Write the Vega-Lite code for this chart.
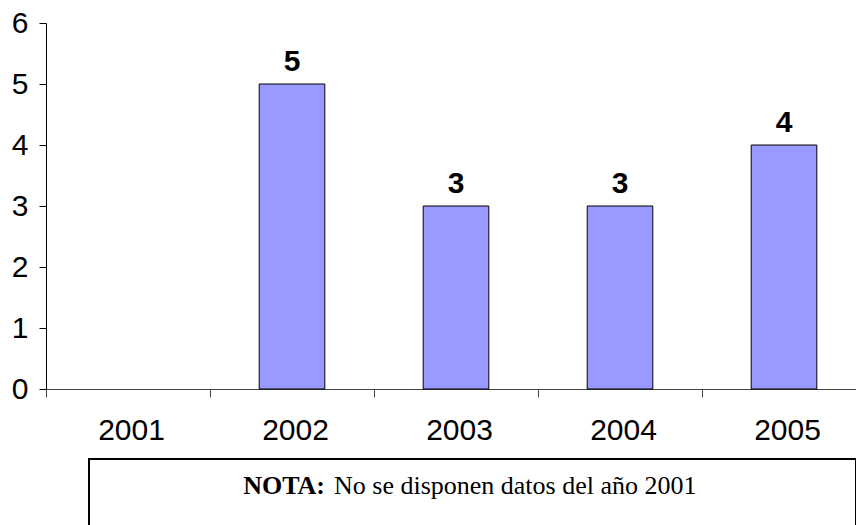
{
  "$schema": "https://vega.github.io/schema/vega-lite/v6.json",
  "padding": {"left": 11, "top": 8, "right": 0, "bottom": 0},
  "background": "white",
  "spacing": 13,
  "config": {"font": "Liberation Sans"},
  "vconcat": [
    {
      "width": 820,
      "height": 366,
      "view": {"stroke": null},
      "data": {"values": [
        {"year": "2001", "n": null},
        {"year": "2002", "n": 5},
        {"year": "2003", "n": 3},
        {"year": "2004", "n": 3},
        {"year": "2005", "n": 4}
      ]},
      "encoding": {
        "x": {
          "field": "year", "type": "ordinal",
          "scale": {"domain": ["2001", "2002", "2003", "2004", "2005"], "paddingInner": 0, "paddingOuter": 0},
          "axis": {"title": null, "labelAngle": 0, "tickBand": "extent", "tickSize": 8, "tickColor": "#444", "domainColor": "#444", "labelFont": "Liberation Sans", "labelFontSize": 30, "labelColor": "#000", "labelPadding": 18, "labelBaseline": "top", "labelOffset": 3}
        },
        "y": {
          "field": "n", "type": "quantitative",
          "scale": {"domain": [0, 6], "nice": false},
          "axis": {"title": null, "grid": false, "values": [0, 1, 2, 3, 4, 5, 6], "tickSize": 7, "tickColor": "#000", "domainColor": "#000", "labelFont": "Liberation Sans", "labelFontSize": 30, "labelColor": "#000", "labelPadding": 11}
        }
      },
      "layer": [
        {"mark": {"type": "bar", "width": {"band": 0.4}, "fill": "#9999FF", "stroke": "#000", "strokeWidth": 1}},
        {"mark": {"type": "text", "font": "Liberation Sans", "fontWeight": "bold", "fontSize": 30, "baseline": "alphabetic", "dy": -13, "color": "#000"},
         "encoding": {"text": {"field": "n", "type": "quantitative"}}}
      ]
    },
    {
      "spacing": 12,
      "hconcat": [
        {
          "width": 30,
          "height": 80,
          "view": {"stroke": null},
          "data": {"values": []},
          "mark": "point",
          "encoding": {}
        },
        {
          "width": 767,
          "height": 80,
          "view": {"stroke": "#000", "strokeWidth": 2},
          "data": {"values": [{"bold": "NOTA:", "rest": "No se disponen datos del año 2001"}]},
          "layer": [
            {"mark": {"type": "text", "font": "Liberation Serif", "fontWeight": "bold", "fontSize": 26, "align": "right", "baseline": "alphabetic", "dx": -147.5, "dy": -5, "color": "#000"},
             "encoding": {"text": {"field": "bold"}}},
            {"mark": {"type": "text", "font": "Liberation Serif", "fontSize": 26, "align": "left", "baseline": "alphabetic", "dx": -138.5, "dy": -5, "color": "#000"},
             "encoding": {"text": {"field": "rest"}}}
          ]
        }
      ]
    }
  ]
}
